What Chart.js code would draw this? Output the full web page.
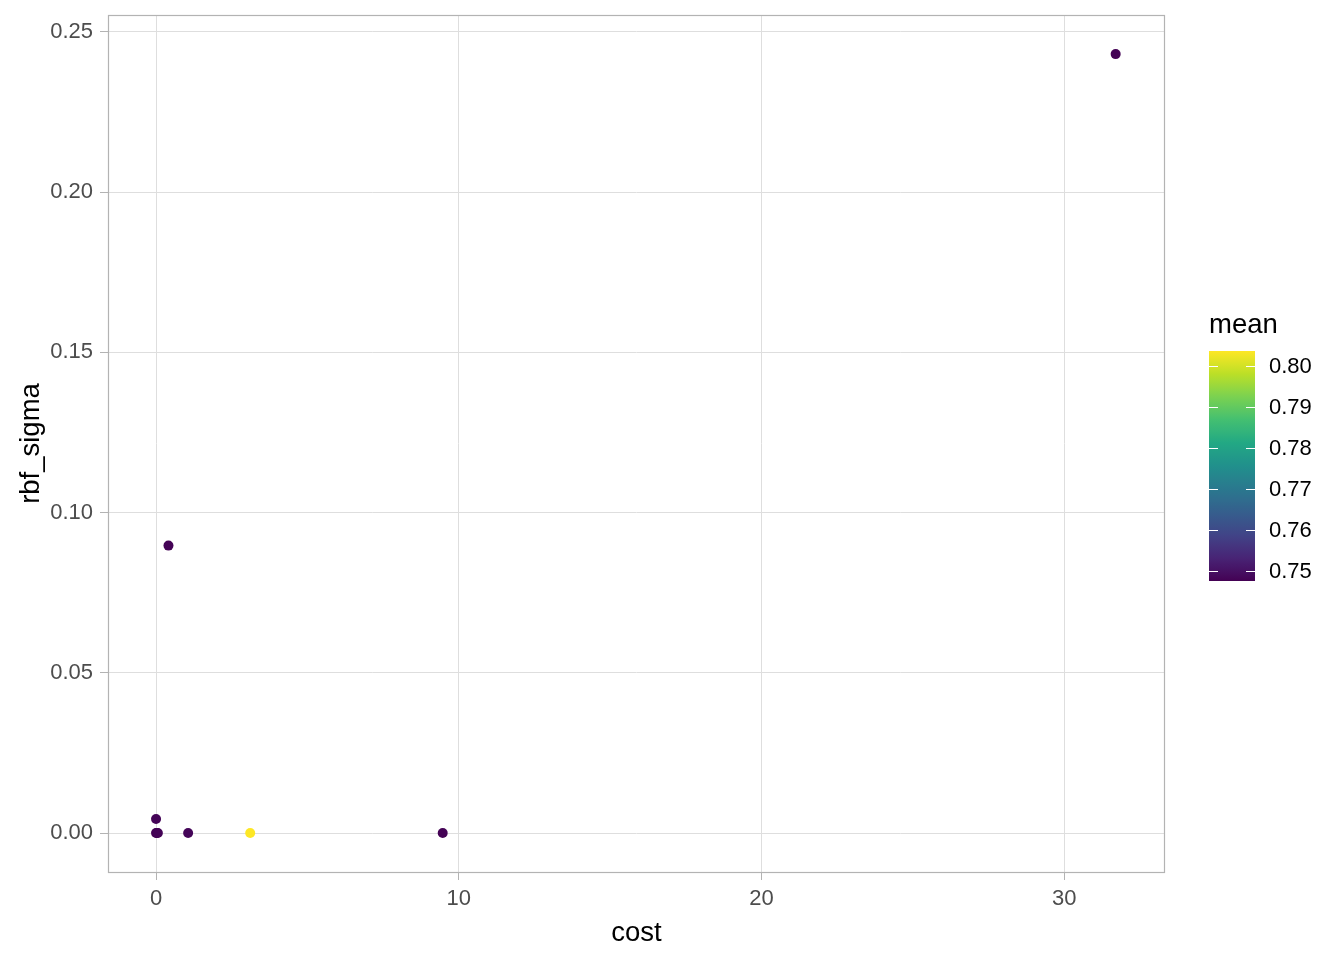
<!DOCTYPE html>
<html>
<head>
<meta charset="utf-8">
<script src="https://cdn.jsdelivr.net/npm/chart.js@4/dist/chart.umd.min.js"></script>
<style>
  html, body { margin: 0; padding: 0; background: #ffffff; }
  #wrap { width: 1344px; height: 960px; }
</style>
</head>
<body>
<div id="wrap"><canvas id="c" width="1344" height="960"></canvas></div>
<script>
// ---- data ----
const cost      = [31.7,   0.41,   0.0,    0.0,    0.03,   0.06,   1.06,   3.11,   9.47];
const rbfSigma  = [0.2431, 0.0897, 0.0044, 0.0000, 0.0000, 0.0000, 0.0000, 0.0000, 0.0000];
const meanAcc   = [0.7476, 0.7478, 0.7480, 0.7477, 0.7475, 0.7479, 0.7481, 0.8037, 0.7476];
const xTicks = [0, 10, 20, 30];
const xTickLabels = ['0', '10', '20', '30'];
const yTicks = [0, 0.05, 0.10, 0.15, 0.20, 0.25];
const yTickLabels = ['0.00', '0.05', '0.10', '0.15', '0.20', '0.25'];
const legendTicks = [0.75, 0.76, 0.77, 0.78, 0.79, 0.80];
const legendTickLabels = ['0.75', '0.76', '0.77', '0.78', '0.79', '0.80'];
const meanMin = 0.7475, meanMax = 0.8037;

// ---- viridis palette ----
const viridis = ['#440154','#482475','#414487','#355F8D','#2A788E','#21908C','#22A884','#43BF71','#7AD151','#BBDF27','#FDE725'];
function hex2rgb(h){return [parseInt(h.substr(1,2),16),parseInt(h.substr(3,2),16),parseInt(h.substr(5,2),16)];}
function viridisAt(t){
  t = Math.max(0, Math.min(1, t));
  const p = t * (viridis.length - 1);
  const i = Math.min(Math.floor(p), viridis.length - 2);
  const f = p - i;
  const a = hex2rgb(viridis[i]), b = hex2rgb(viridis[i+1]);
  const c = a.map((v,k)=>Math.round(v + (b[k]-v)*f));
  return 'rgb(' + c.join(',') + ')';
}
const pointColors = meanAcc.map(m => viridisAt((m - meanMin) / (meanMax - meanMin)));

const FONT = '"Liberation Sans", Arial, sans-serif';

const panelBorder = {
  id: 'panelBorder',
  afterDraw(chart) {
    const {ctx, chartArea: a} = chart;
    ctx.save();
    ctx.strokeStyle = '#B3B3B3';
    ctx.lineWidth = 1.2;
    ctx.strokeRect(Math.round(a.left) + 0.5, Math.round(a.top) + 0.5,
                   Math.round(a.right - a.left) - 1, Math.round(a.bottom - a.top));
    ctx.restore();
  }
};

const colorbar = {
  id: 'colorbar',
  afterDraw(chart) {
    const ctx = chart.ctx;
    const bx = 1209, bw = 46, by = 351, bh = 230;
    ctx.save();
    ctx.fillStyle = '#000000';
    ctx.font = '27.5px ' + FONT;
    ctx.textAlign = 'left';
    ctx.textBaseline = 'middle';
    ctx.fillText('mean', 1209, 325);
    const g = ctx.createLinearGradient(0, by + bh, 0, by);
    for (let i = 0; i <= 40; i++) g.addColorStop(i / 40, viridisAt(i / 40));
    ctx.fillStyle = g;
    ctx.fillRect(bx, by, bw, bh);
    ctx.font = '22px ' + FONT;
    ctx.strokeStyle = '#ffffff';
    ctx.lineWidth = 1;
    legendTicks.forEach((v, i) => {
      const y = by + bh - (v - meanMin) / (meanMax - meanMin) * bh;
      const yy = Math.round(y) + 0.5;
      ctx.beginPath();
      ctx.moveTo(bx, yy); ctx.lineTo(bx + 9, yy);
      ctx.moveTo(bx + bw - 9, yy); ctx.lineTo(bx + bw, yy);
      ctx.stroke();
      ctx.fillStyle = '#000000';
      ctx.fillText(legendTickLabels[i], 1269, y + 1);
    });
    ctx.restore();
  }
};

new Chart(document.getElementById('c'), {
  type: 'scatter',
  data: {
    datasets: [{
      data: cost.map((c, i) => ({x: c, y: rbfSigma[i]})),
      backgroundColor: pointColors,
      borderWidth: 0,
      pointRadius: 5,
      pointHoverRadius: 5
    }]
  },
  options: {
    responsive: false,
    animation: false,
    devicePixelRatio: 1,
    layout: { padding: { top: 15, right: 179, bottom: 0, left: 0 } },
    plugins: { legend: { display: false }, tooltip: { enabled: false } },
    scales: {
      x: {
        type: 'linear',
        min: -1.587, max: 33.33,
        afterBuildTicks(s) { s.ticks = xTicks.map(v => ({value: v})); },
        afterFit(s) { s.height = 88; s.paddingLeft = 0; s.paddingRight = 0; },
        grid: { color: '#DEDEDE', lineWidth: 1, tickLength: 8, tickColor: '#B3B3B3', drawTicks: true },
        border: { display: false },
        ticks: {
          autoSkip: false, maxRotation: 0, padding: 6,
          color: '#4D4D4D', font: { family: FONT, size: 22 },
          callback: (v, i) => xTickLabels[i]
        },
        title: {
          display: true, text: 'cost', color: '#000000',
          font: { family: FONT, size: 27.5 }, padding: { top: 0, bottom: 10 }
        }
      },
      y: {
        type: 'linear',
        min: -0.01216, max: 0.2553,
        afterBuildTicks(s) { s.ticks = yTicks.map(v => ({value: v})); },
        afterFit(s) { s.width = 108; s.paddingTop = 0; s.paddingBottom = 0; },
        grid: { color: '#DEDEDE', lineWidth: 1, tickLength: 8, tickColor: '#B3B3B3', drawTicks: true },
        border: { display: false },
        ticks: {
          autoSkip: false, padding: 7,
          color: '#4D4D4D', font: { family: FONT, size: 22 },
          callback: (v, i) => yTickLabels[i]
        },
        title: {
          display: true, text: 'rbf_sigma', color: '#000000',
          font: { family: FONT, size: 27.5 }, padding: { top: 15, bottom: 0 }
        }
      }
    }
  },
  plugins: [panelBorder, colorbar]
});
</script>
</body>
</html>
